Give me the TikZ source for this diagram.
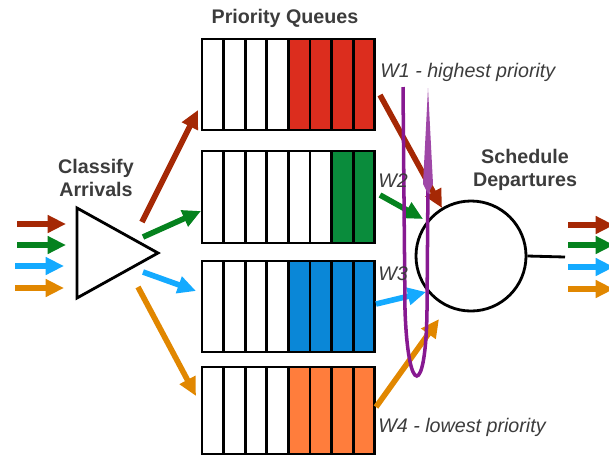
\documentclass[tikz,border=0pt]{standalone}
\usepackage{fontspec}
\setmainfont{Liberation Sans}
\usetikzlibrary{arrows.meta}

\definecolor{flowred}{RGB}{165,40,5}
\definecolor{flowgreen}{RGB}{5,130,30}
\definecolor{flowblue}{RGB}{20,170,255}
\definecolor{floworange}{RGB}{225,135,0}
\definecolor{qred}{RGB}{220,45,30}
\definecolor{qgreen}{RGB}{10,140,60}
\definecolor{qblue}{RGB}{10,135,215}
\definecolor{qorange}{RGB}{255,125,60}
\definecolor{loopc}{RGB}{135,25,145}
\definecolor{textgray}{RGB}{60,60,60}

\tikzset{
  flow/.style={line width=4pt, -{Triangle[length=13pt,width=12pt]}},
  slot/.style={draw=black, line width=2pt},
  heading/.style={font=\bfseries\fontsize{14}{16.3}\selectfont, text=textgray, align=center},
  weight/.style={font=\itshape\fontsize{14}{16}\selectfont, text=textgray, anchor=west, inner sep=0pt},
}

\begin{document}
\begin{tikzpicture}[x=0.025cm, y=-0.025cm]
    \useasboundingbox (0,0) rectangle (609,456);

    % headings
    \node[heading] (title) at (285,18) {Priority Queues};
    \node[heading] (classify) at (96,178) {Classify\\Arrivals};
    \node[heading] (schedtext) at (525,170) {Schedule\\Departures};

    % the four queues: top / height / white slots / colour
    \foreach \y/\h/\w/\c [count=\k] in {39/91/4/qred, 151/92/6/qgreen, 261/91/4/qblue, 367/87/4/qorange} {
        \foreach \i in {0,...,7} {
            \ifnum\i<\w \def\f{white}\else\def\f{\c}\fi
            \draw[slot, fill=\f] ({202+21.6*\i},\y) rectangle ++(21.6,\h);
        }
    }

    % classifier and scheduler
    \draw[line width=2pt, line join=miter] (77,208) coordinate (tri top) -- (158,253) coordinate (tri tip) -- (77,298) coordinate (tri bot) -- cycle;
    \node[draw, circle, line width=2pt, minimum size=2.75cm, inner sep=0pt] (sched) at (471,256) {};
    \coordinate (join) at (565,257);
    \draw[line width=2pt] (sched.east) -- (join);

    % arrivals
    \coordinate (red in) at (17,224);   \coordinate (red arr) at (66,224);
    \coordinate (green in) at (17,245); \coordinate (green arr) at (66,245);
    \coordinate (blue in) at (15,266);  \coordinate (blue arr) at (64,266);
    \coordinate (orange in) at (15,288); \coordinate (orange arr) at (64,288);
    \draw[flow, flowred] (red in) -- (red arr);
    \draw[flow, flowgreen] (green in) -- (green arr);
    \draw[flow, flowblue] (blue in) -- (blue arr);
    \draw[flow, floworange] (orange in) -- (orange arr);

    % classifier to queues
    \coordinate (red cl) at (142,222);    \coordinate (red q) at (198,110);
    \coordinate (green cl) at (143,237);  \coordinate (green q) at (201,211);
    \coordinate (blue cl) at (143,272);   \coordinate (blue q) at (196,291);
    \coordinate (orange cl) at (138,287); \coordinate (orange q) at (196,396);
    \draw[flow, flowred] (red cl) -- (red q);
    \draw[flow, flowgreen] (green cl) -- (green q);
    \draw[flow, flowblue] (blue cl) -- (blue q);
    \draw[flow, floworange] (orange cl) -- (orange q);

    % queues to scheduler
    \coordinate (red out) at (380,95);     \coordinate (red s) at (442,208);
    \coordinate (green out) at (380,195);  \coordinate (green s) at (423,219);
    \coordinate (blue out) at (376,304);   \coordinate (blue s) at (426,292);
    \coordinate (orange out) at (376,407); \coordinate (orange s) at (439,319);
    \draw[flow, flowred] (red out) -- (red s);
    \draw[flow, flowgreen] (green out) -- (green s);
    \draw[flow, flowblue] (blue out) -- (blue s);
    \draw[flow, floworange] (orange out) -- (orange s);

    % departures
    \coordinate (red dep) at (568,225);    \coordinate (red end) at (614,225);
    \coordinate (green dep) at (568,245);  \coordinate (green end) at (614,245);
    \coordinate (blue dep) at (568,267);   \coordinate (blue end) at (614,267);
    \coordinate (orange dep) at (568,289); \coordinate (orange end) at (614,289);
    \draw[flow, flowred] (red dep) -- (red end);
    \draw[flow, flowgreen] (green dep) -- (green end);
    \draw[flow, flowblue] (blue dep) -- (blue end);
    \draw[flow, floworange] (orange dep) -- (orange end);

    % round robin loop
    \draw[loopc, line width=2.5pt] (403,87) -- (405,310) .. controls (408,398) and (426,398) .. (427,310) -- (428,180);
    \fill[loopc!80] (428,88) -- (433,184) -- (428,194) -- (423,184) -- cycle;

    % weights
    \node[weight] (w1) at (380,72) {W1 - highest priority};
    \node[weight] (w2) at (378,181) {W2};
    \node[weight] (w3) at (378,274) {W3};
    \node[weight] (w4) at (378,427) {W4 - lowest priority};
\end{tikzpicture}
\end{document}
